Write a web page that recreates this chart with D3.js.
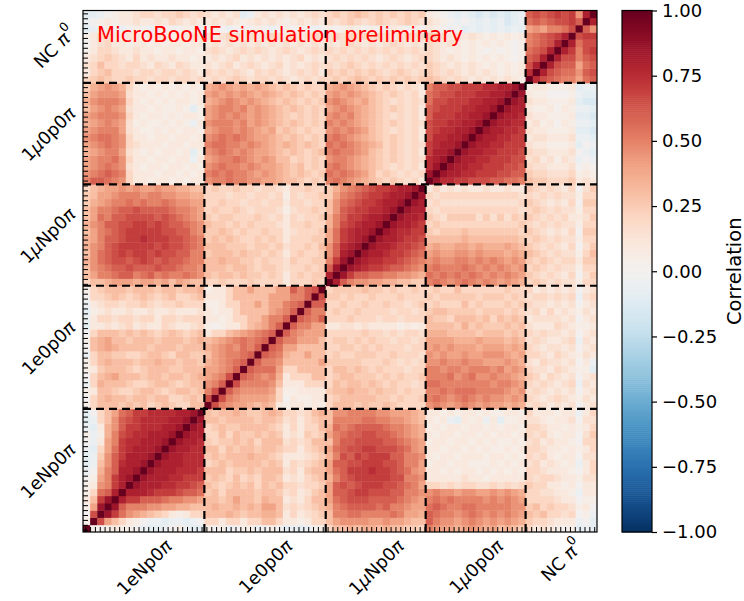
<!DOCTYPE html>
<html lang="en">
<head>
<meta charset="UTF-8">
<title>Correlation matrix</title>
<script src="https://cdn.jsdelivr.net/npm/d3@7"></script>
<style>
  body { margin: 0; background: #fff; }
  text { font-family: "DejaVu Sans", sans-serif; }
</style>
</head>
<body>
<div id="chart"></div>
<script>
// channel blocks, same order on both axes (bottom/left = first)
var blockNames = ["1eNp0\u03c0", "1e0p0\u03c0", "1\u03bcNp0\u03c0", "1\u03bc0p0\u03c0", "NC \u03c0"];
var blockBins = [17, 17, 14, 14, 10];
var cbTicks = [-1, -0.75, -0.5, -0.25, 0, 0.25, 0.5, 0.75, 1];

// one character per cell -> correlation value
var levelKeys = "zyxwv0a1b2c3d4e5f6g7h8i9jX";
var levelVals = [-0.25, -0.2, -0.15, -0.1, -0.05, 0, 0.05, 0.1, 0.15, 0.2, 0.25, 0.3, 0.35,
                 0.4, 0.45, 0.5, 0.55, 0.6, 0.65, 0.7, 0.75, 0.8, 0.85, 0.9, 0.95, 1];

// lower triangle, row j holds bins 0..j, "|" separates the blocks
var rowsA = [
  "X",
  "aX",
  "0gX",
  "a4iX",
  "137iX",
  "a2f68X",
  "a1e578X",
  "0a4578iX",
  "v0d5688iX",
  "wv3e6h88iX",
  "wvce67888iX",
  "vw24f7h888iX",
  "0v1457hh888iX",
  "avad5g7hh888iX",
  "vw1de677hhh88iX",
  "wv23e6g7hhhh88iX",
  "w0234f677hhhh88iX"
];
var rowsB = [
  "a2333c3c32c3c2233|X",
  "023d33c33c3322c3c|gX",
  "a133c22c33c2c33c3|5gX",
  "v2d333c22c33c2c33|e56X",
  "023d4333c33c33c3d|4e5gX",
  "a1c333c2c333cc333|44e56X",
  "a23d333c33d33c33c|d4e5f6X",
  "v233cc22c33c233cc|34e55f6X",
  "03d4d3333c333c333|d4e5ef56X",
  "a3d433c333c333c3d|3d4e5f5f6X",
  "02333c3c3c2c3c2c3|1223d4e5f6X",
  "w11b1b21b112b11b2|a0a1123d456X",
  "v122b22b22122b222|11a122334556X",
  "wa1b11b11b11b111b|1a11233334e56X",
  "v1b22b22c2b22c222|aa1223343445f6X",
  "022c3c2c3c2c322c3|111233333444556X",
  "a2c333c333c33c33d|a11233433344656gX"
];
var rowsC = [
  "233d444d44d434d33|22c222c22221222c2|X",
  "3455f665f65f55f5e|3c33c3cc2c212c2cc|8X",
  "3e5f66g666g66f55e|333c33c2cc2b22c2c|6iX",
  "def6gg6g7g6g66f55|33d33cc2c22bc22cc|57iX",
  "3ef6g7g77g7gg6655|c333c3cc2c212c22c|e68iX",
  "de56g77777g7gg6f5|333ccc2cc2cb22c23|e6h8iX",
  "d4566g77h777gg6f5|c3c3c22c2c21222cc|4f7h8iX",
  "345f6g77777gg665e|cc3c2c22c221b222c|4f7h88iX",
  "de566gg77g7g66f5e|3cc2c2c222b122c22|d5g7h88iX",
  "34f566gggg6g6f5e4|c2cc222c2b212b22c|d5677h88iX",
  "3455f66g6666f55e4|2c22c2b222bab22c2|3e6g77hh8iX",
  "cd4e55f5f55f5ee44|22c22b22b22122b22|3ef6g77h88iX",
  "c344e555e55ee44dd|222b22b22b2a2b22c|c45f6g77h88iX",
  "23d44e4e44e44dd33|2c22c22b22b122c22|cde5f6g77h88iX"
];
var rowsD = [
  "566f5e211a11a1a11|e55f55ee44d33c2c2|5f5e4d3c2c2b21|X",
  "e5f6f52111a11a1a1|5f5f55e4e4d3c3c2c|f5f5e432c2b2b2|iX",
  "4e5f5eb1a11a11a1a|e5f55e5e44d3c32c2|5f5e4d3c2b2b21|hiX",
  "4e55fe211a11a11v1|4e55f5e4e4332c2c2|e55e4d3c2c2b2b|h8iX",
  "d4e554b1a1a11a1wa|e5f5e5e44d3c3c2c3|5f55e43c2c2b21|788iX",
  "4e5f5e2b111a11a11|5ff55e5e4d3d3c3c2|f5f5e4d32c2b2b|7h88iX",
  "e5ff5e211a11a11a1|e5f5f5e44d3c3c2c2|5f5e4d3c2c2b21|ghh88iX",
  "4e5554b1aa1a1a11a|4e55e5e4d4c3c2c22|e5e5e43c2b2b21|g7hh88iX",
  "d4e5e4ba1aa1a1av1|e555e54e4d3c3c2c2|5e5e4d3c2c2b2b|g77hh88iX",
  "4e555e21a11a1a11a|4e5e5e4e4d3c2c2c2|e5e54d3c2b2b21|6777hh88iX",
  "34e5e4b11a1aa1awa|4e55e54e4d3c3c2c2|4e5e4d3c2c2b21|6g777hh88iX",
  "de555e21a1a1a11a1|d4e5e4e4d3c3c2c2c|e5e4d43c2b2b2b|fgg777hh88iX",
  "34eee4b11a1a1a1a1|4e4e4e4d4d3c3c2c2|4e4e4d3c2c2b21|f6gg777hh88iX",
  "cd4e4d21a1a1a1a1a|d4e4d4d4d3c3c2c22|d4e4d3c2c2b2b1|566gg777hh88iX"
];
var rowsE = [
  "2c3c22c22b22b22b2|b2b2c2b22b2b1b2b2|2c2c3c2c2c2c2c|3c2b2b1b1b1b1a|X",
  "12c3222b22b22b2b1|2b2b2b12b2b1b2b21|c2c2c2c2b2c2b2|c2b2b1b1b1a1a1|hX",
  "b2322b22b12b12b11|b1b21b2b1b21b1b2b|2b2c2b2b2b2b2b|c2b1b1b1a1a1a1|g8X",
  "1b2c2b121b11b11a1|1b1b21b1b1b1b21b1|b2b2b2b1b2b1b2|2b1b1a1a1a1a0a|6g8X",
  "a122b11b11a11a11a|b2b1b2b2b1b2b1b2b|2b2b2b2b2b2b2b|2b1a1a1a0a0a0a|f6g8X",
  "01b211a11a1a11a11|1b1b1b1b1b1b1b1b1|b1b2b1b1b2b1b1|2b1b1a1a1a1a0a|5f6g8X",
  "a12b1a11a111a11b1|b1b2b1b1b2b1b1b2b|b2b2b2b2b1b2b2|c2b1b1b1a1a1a1|5f6g78X",
  "wv0a0v0a0v0a00a0v|0a0v0a0a0v0a0a0v0|a0a1a0a0a1a0a0|1a0v0wvwvwvwvw|4e455fgX",
  "v0a1a11b11b12b1b1|1b1b1a1b1b1a1b1b1|2b2c2b2c2b2c2b|b1a0v0vwvwvxwv|f6f6gg76X",
  "wwv0a11b22b22c2b2|b1b1bwv1b1b1b1b2b|2c2c3c2c2c2c2c|1a0vwvwxwxwxwv|6g6g7g7e8X"
];

var W = 744, H = 601;
var plot = {left: 83, right: 597, top: 10.5, bottom: 532};
var cb = {left: 622, right: 652};
var fs = 17.8;       // block labels
var fsTick = 18;     // colour bar ticks
var fsTitle = 19.5;  // colour bar title

var rows = rowsA.concat(rowsB, rowsC, rowsD, rowsE).map(function (r) { return r.replace(/\|/g, ""); });
var n = rows.length;
var cells = [];
rows.forEach(function (r, j) {
    if (r.length !== j + 1) console.warn("row " + j + " has " + r.length);
    for (var i = 0; i <= j; i++) {
        var v = levelVals[levelKeys.indexOf(r[i])];
        cells.push({i: i, j: j, v: v});
        if (i !== j) cells.push({i: j, j: i, v: v});
    }
});

var svg = d3.select("#chart").append("svg")
    .attr("width", W)
    .attr("height", H)
    .style("display", "block");

var x = d3.scaleLinear().domain([0, n]).range([plot.left, plot.right]);
var y = d3.scaleLinear().domain([0, n]).range([plot.bottom, plot.top]);
var color = d3.scaleSequential(function (t) { return d3.interpolateRdBu(1 - t); }).domain([-1, 1]);

svg.append("clipPath").attr("id", "clip")
    .append("rect")
    .attr("x", plot.left).attr("y", plot.top)
    .attr("width", plot.right - plot.left).attr("height", plot.bottom - plot.top);

// heatmap cells
svg.append("g").attr("clip-path", "url(#clip)")
    .selectAll("rect")
    .data(cells)
    .enter().append("rect")
    .attr("x", function (d) { return x(d.i); })
    .attr("y", function (d) { return y(d.j + 1); })
    .attr("width", function (d) { return x(d.i + 1) - x(d.i) + 0.4; })
    .attr("height", function (d) { return y(d.j) - y(d.j + 1) + 0.4; })
    .attr("fill", function (d) { return color(d.v); });

// block boundaries
var edges = d3.cumsum(blockBins).slice(0, -1);
var dash = svg.append("g")
    .attr("stroke", "black")
    .attr("stroke-width", 2.2)
    .attr("stroke-dasharray", "8,5")
    .attr("fill", "none");
edges.forEach(function (b) {
    dash.append("line").attr("x1", x(b)).attr("x2", x(b)).attr("y1", plot.bottom).attr("y2", plot.top);
    dash.append("line").attr("x1", plot.left).attr("x2", plot.right).attr("y1", y(b)).attr("y2", y(b));
});

// inward minor ticks
var minorTicks = d3.range(0.31, n, 0.679);
var xAxis = svg.append("g")
    .attr("transform", "translate(0," + plot.bottom + ")")
    .call(d3.axisBottom(x).tickValues(minorTicks).tickSize(-5).tickFormat(""));
var yAxis = svg.append("g")
    .attr("transform", "translate(" + plot.left + ",0)")
    .call(d3.axisLeft(y).tickValues(minorTicks).tickSize(-5).tickFormat(""));
[xAxis, yAxis].forEach(function (a) {
    a.select(".domain").remove();
    a.selectAll("line").attr("stroke", "black").attr("stroke-width", 1);
});

svg.append("rect")
    .attr("x", plot.left).attr("y", plot.top)
    .attr("width", plot.right - plot.left).attr("height", plot.bottom - plot.top)
    .attr("fill", "none").attr("stroke", "black").attr("stroke-width", 1.2);

// block labels, rotated 45 degrees
var centres = blockBins.map(function (b, k) { return d3.sum(blockBins.slice(0, k)) + b / 2; });

function addLabel(g, name) {
    var t = g.append("text")
        .attr("text-anchor", "middle")
        .attr("dominant-baseline", "central")
        .style("font-size", fs + "px");
    var parts = name.split(/([\u03bc\u03c0])/);
    parts.forEach(function (p) {
        if (!p) return;
        var ts = t.append("tspan").text(p);
        if (p === "\u03bc" || p === "\u03c0") ts.style("font-style", "italic");
    });
    if (name.indexOf("NC") === 0) {
        t.append("tspan").text("0").attr("dy", -7.5).style("font-size", (fs * 0.7) + "px");
    }
    return t;
}

var rt2 = Math.SQRT2;
blockNames.forEach(function (name, k) {
    var gb = svg.append("g");
    var tb = addLabel(gb, name);
    var L = tb.node().getComputedTextLength();
    var half = (L + fs) / (2 * rt2);
    gb.attr("transform", "translate(" + x(centres[k]) + "," + (plot.bottom + 4 + half) + ") rotate(-45)");

    var gl = svg.append("g");
    addLabel(gl, name);
    gl.attr("transform", "translate(" + (plot.left - 5 - half) + "," + y(centres[k]) + ") rotate(-45)");
});

// annotation
svg.append("text")
    .attr("x", 97)
    .attr("y", 41.7)
    .attr("fill", "#ff0000")
    .style("font-size", "20.9px")
    .text("MicroBooNE simulation preliminary");

// colour bar
var cy = d3.scaleLinear().domain([-1, 1]).range([plot.bottom, plot.top]);
var steps = d3.range(-1, 1, 2 / 256);
svg.append("g").selectAll("rect")
    .data(steps)
    .enter().append("rect")
    .attr("x", cb.left)
    .attr("width", cb.right - cb.left)
    .attr("y", function (d) { return cy(d + 2 / 256); })
    .attr("height", function (d) { return cy(d) - cy(d + 2 / 256) + 0.5; })
    .attr("fill", function (d) { return color(d + 1 / 256); });

svg.append("rect")
    .attr("x", cb.left).attr("y", plot.top)
    .attr("width", cb.right - cb.left).attr("height", plot.bottom - plot.top)
    .attr("fill", "none").attr("stroke", "black").attr("stroke-width", 1.2);

var cbAxis = svg.append("g")
    .attr("transform", "translate(" + cb.right + ",0)")
    .call(d3.axisRight(cy).tickValues(cbTicks).tickSize(5).tickPadding(5).tickFormat(d3.format(".2f")));
cbAxis.select(".domain").remove();
cbAxis.selectAll("line").attr("stroke", "black").attr("stroke-width", 1.2);
cbAxis.selectAll("text")
    .attr("fill", "black")
    .style("font-size", fsTick + "px")
    .style("font-family", "DejaVu Sans");

svg.append("text")
    .attr("transform", "translate(734," + cy(0) + ") rotate(-90)")
    .attr("text-anchor", "middle")
    .attr("dominant-baseline", "central")
    .style("font-size", fsTitle + "px")
    .text("Correlation");
</script>
</body>
</html>
